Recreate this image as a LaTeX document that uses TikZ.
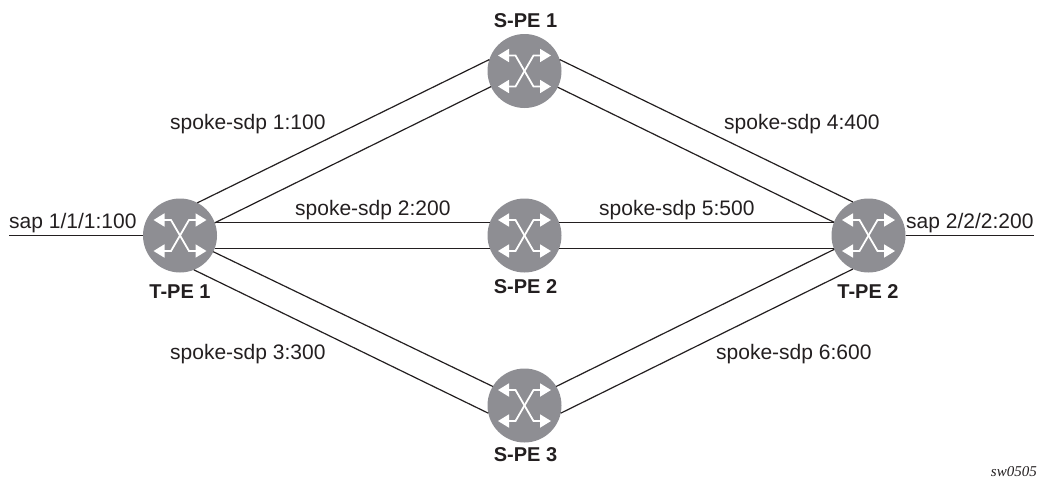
\documentclass[tikz,border=0pt]{standalone}
\usepackage{fontspec}
\setmainfont{Liberation Sans}
\newfontfamily\tagfont{Liberation Serif}
\usetikzlibrary{arrows.meta}
\definecolor{routergray}{RGB}{142,142,147}
\definecolor{inktext}{RGB}{35,31,32}
\tikzset{
  x=1pt,y=-1pt,
  router/.style={circle,fill=routergray,minimum size=74pt,inner sep=0pt,outer sep=0pt},
  link/.style={draw=inktext,line width=1.2pt},
  lbl/.style={font=\fontsize{21}{24}\selectfont,inner sep=0pt,anchor=base west,text=inktext},
  rname/.style={font=\fontsize{20}{24}\selectfont\bfseries,inner sep=0pt,text=inktext},
  xarrow/.style={draw=white,line width=1.8pt,line join=miter,{Triangle[length=11pt,width=13pt]}-{Triangle[length=11pt,width=13pt]}},
  pics/swicon/.style={code={
    \draw[xarrow] (-26.5,-15.5) -- (-9,-15.5) -- (9,15.5) -- (26.5,15.5);
    \draw[xarrow] (-26.5,15.5) -- (-9,15.5) -- (9,-15.5) -- (26.5,-15.5);
  }}
}
\begin{document}
\begin{tikzpicture}
\useasboundingbox (0,0) rectangle (1038,480);
\node[router] (t1) at (180,235.5) {};
\node[router] (t2) at (868.5,235.5) {};
\node[router] (s1) at (524.5,71) {};
\node[router] (s2) at (524.5,235.5) {};
\node[router] (s3) at (524.5,405.5) {};
\foreach \n in {t1,t2,s1,s2,s3} \path (\n) pic {swicon};
\coordinate (sapl) at (9,235.5);
\coordinate (sapr) at (1034,235.5);
\draw[link] (sapl) -- (t1.west);
\draw[link] (t2.east) -- (sapr);
\draw[link] (t1.62) -- (s1.162);
\draw[link] (t1.20) -- (s1.205);
\draw[link] (t1.-26) -- (s3.149);
\draw[link] (t1.-68) -- (s3.192);
\draw[link] (t1.20) -- (s2.160);
\draw[link] (t1.-20) -- (s2.200);
\draw[link] (s1.18) -- (t2.115);
\draw[link] (s1.-26) -- (t2.159);
\draw[link] (s2.20) -- (t2.160);
\draw[link] (s2.-20) -- (t2.200);
\draw[link] (s3.31) -- (t2.202);
\draw[link] (s3.-12) -- (t2.245);
\node[lbl] (l0) at (9,228) {sap 1/1/1:100};
\node[lbl] (l1) at (170,129) {spoke-sdp 1:100};
\node[lbl] (l2) at (295,215) {spoke-sdp 2:200};
\node[lbl] (l3) at (170,359) {spoke-sdp 3:300};
\node[lbl] (l4) at (724,129) {spoke-sdp 4:400};
\node[lbl] (l5) at (599,215) {spoke-sdp 5:500};
\node[lbl] (l6) at (716,359) {spoke-sdp 6:600};
\node[lbl] (l7) at (906,228) {sap 2/2/2:200};
\node[rname] (n1) at (180,292) {T-PE 1};
\node[rname] (n2) at (525.5,21) {S-PE 1};
\node[rname] (n3) at (525.5,287) {S-PE 2};
\node[rname] (n4) at (525.5,455) {S-PE 3};
\node[rname] (n5) at (868,292) {T-PE 2};
\node[font=\fontsize{15}{16}\selectfont\itshape\tagfont,inner sep=0pt,anchor=base east,text=inktext] (sw) at (1037,476) {sw0505};
\end{tikzpicture}
\end{document}
